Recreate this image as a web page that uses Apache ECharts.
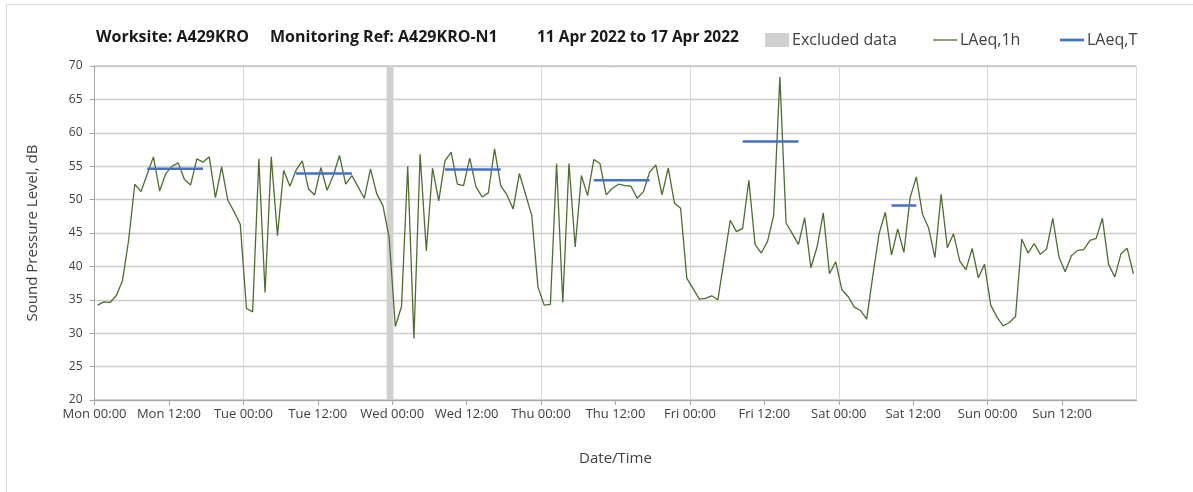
<!DOCTYPE html>
<html>
<head>
<meta charset="utf-8">
<script src="https://cdn.jsdelivr.net/npm/echarts@6/dist/echarts.min.js"></script>
<style>
html,body{margin:0;padding:0;background:#fff;}
#frame{position:absolute;left:6px;top:4px;width:1187px;height:488px;border-left:1px solid #d9d9d9;border-top:1px solid #d9d9d9;}
#chart{position:absolute;left:0;top:0;width:1193px;height:492px;}
</style>
</head>
<body>
<div id="frame"></div>
<div id="chart"></div>
<script>
// Day names for x-axis labels
var dayNames = ['Mon','Tue','Wed','Thu','Fri','Sat','Sun'];
// Hourly LAeq,1h values (dB), Mon 00:00 to Sun 23:00
var laeq1h = [
  34.2,34.7,34.6,35.6,37.8,43.9,52.3,51.2,53.8,56.4,51.3,53.9,55.0,55.5,53.0,52.2,56.1,55.6,56.4,50.3,54.9,49.9,48.2,46.3,
  33.7,33.2,56.1,36.1,56.4,44.6,54.4,52.0,54.4,55.8,51.6,50.7,54.8,51.4,53.6,56.6,52.3,53.6,51.9,50.2,54.6,50.9,49.1,44.4,
  31.0,34.0,55.0,29.2,56.8,42.3,54.7,49.8,55.8,57.1,52.3,52.1,56.2,51.9,50.4,51.0,57.6,52.1,50.7,48.6,53.9,50.8,47.6,36.9,
  34.2,34.3,55.4,34.6,55.4,42.9,53.6,50.6,56.0,55.4,50.7,51.7,52.3,52.1,52.0,50.2,51.2,54.1,55.2,50.7,54.7,49.5,48.7,38.2,
  36.7,35.1,35.2,35.6,35.0,40.9,46.9,45.2,45.7,52.9,43.3,42.0,43.7,47.6,68.4,46.5,44.9,43.3,47.3,39.8,42.9,48.0,38.9,40.7,
  36.5,35.5,33.9,33.4,32.1,38.7,44.9,48.1,41.7,45.6,42.1,50.3,53.4,47.8,45.7,41.3,50.8,42.8,44.9,40.8,39.5,42.7,38.3,40.3,
  34.2,32.4,31.1,31.6,32.5,44.1,42.0,43.4,41.8,42.6,47.2,41.4,39.2,41.6,42.4,42.5,43.9,44.2,47.2,40.3,38.4,41.9,42.7,38.9
];
// LAeq,T periods (first hour index, last hour index, level dB)
var periodStart = [8, 32, 56, 80, 104, 128];
var periodEnd   = [17, 41, 65, 89, 113, 132];
var periodValue = [54.6, 53.9, 54.5, 52.9, 58.7, 49.1];
// Excluded data period (hours from Mon 00:00)
var excludedStart = [47.1];
var excludedEnd   = [48.2];
// Y axis ticks
var yMin = 20, yMax = 70, yStep = 5;

var FONT = '"Open Sans", sans-serif';
var lineData = laeq1h.map(function(v, i){ return [i + 0.5, v]; });
var tData = [];
for (var k = 0; k < periodStart.length; k++) {
  tData.push([periodStart[k] + 0.5, periodValue[k]]);
  tData.push([periodEnd[k] + 0.5, periodValue[k]]);
  tData.push([periodEnd[k] + 0.5, '-']);
}
var exclAreas = excludedStart.map(function(s, i){ return [{xAxis: s}, {xAxis: excludedEnd[i]}]; });

function legendAt(left, item){
  return {
    left: left, top: 32, padding: 0,
    itemWidth: 24, itemHeight: 14,
    textStyle: {fontSize: 16, color: '#404040', fontFamily: FONT, padding: [0,0,0,-2]},
    data: [item]
  };
}

var chart = echarts.init(document.getElementById('chart'), null, {renderer: 'canvas'});
chart.setOption({
  animation: false,
  backgroundColor: 'transparent',
  textStyle: {fontFamily: FONT},
  graphic: [
    {type:'text', left: 96, top: 29, style:{text:'Worksite: A429KRO', font:'bold 16px ' + FONT, fill:'#1a1a1a'}},
    {type:'text', left: 270, top: 29, style:{text:'Monitoring Ref: A429KRO-N1', font:'bold 16px ' + FONT, fill:'#1a1a1a'}},
    {type:'text', left: 537, top: 30, style:{text:'11 Apr 2022 to 17 Apr 2022', font:'bold 15.5px ' + FONT, fill:'#1a1a1a'}}
  ],
  legend: [
    legendAt(765, {name: 'Excluded data', icon: 'rect'}),
    legendAt(933, {name: 'LAeq,1h', icon: 'path://M0,0 L24,0 L24,1.6 L0,1.6 Z'}),
    legendAt(1060, {name: 'LAeq,T', icon: 'path://M0,0 L26,0 L26,3 L0,3 Z'})
  ],
  grid: {left: 94.5, right: 56.5, top: 66, bottom: 92, show: true, borderColor: '#a6a6a6', borderWidth: 1},
  xAxis: [
    {
      type: 'value', min: 0, max: 168, interval: 12,
      name: 'Date/Time', nameLocation: 'middle', nameGap: 51,
      nameTextStyle: {fontSize: 15, color: '#404040', fontFamily: FONT},
      axisLine: {show: true, lineStyle: {color: '#a6a6a6'}},
      axisTick: {show: true, length: 5, lineStyle: {color: '#a6a6a6'}},
      splitLine: {show: false},
      axisLabel: {
        color: '#404040', fontSize: 13, fontFamily: FONT, margin: 8, showMaxLabel: false,
        formatter: function(v){
          var d = Math.floor(v / 24);
          if (d >= dayNames.length) return '';
          return dayNames[d] + (v % 24 === 0 ? ' 00:00' : ' 12:00');
        }
      }
    },
    {
      type: 'value', min: 0, max: 168, interval: 24, position: 'bottom',
      axisLine: {show: false}, axisTick: {show: false}, axisLabel: {show: false},
      splitLine: {show: true, lineStyle: {color: '#d9d9d9', width: 1}}
    }
  ],
  yAxis: {
    type: 'value', min: yMin, max: yMax, interval: yStep,
    name: 'Sound Pressure Level, dB', nameLocation: 'middle', nameGap: 54,
    nameTextStyle: {fontSize: 15, color: '#404040', fontFamily: FONT},
    axisLine: {show: true, lineStyle: {color: '#a6a6a6'}},
    axisTick: {show: true, length: 5, inside: false, lineStyle: {color: '#a6a6a6'}},
    axisLabel: {color: '#404040', fontSize: 12, fontFamily: FONT, margin: 12},
    splitLine: {show: true, lineStyle: {color: '#cccccc', width: 1.3}}
  },
  series: [
    {
      name: 'Excluded data', type: 'line', data: [], symbol: 'none',
      itemStyle: {color: '#d0d0d0'}, lineStyle: {color: '#d0d0d0'},
      markArea: {silent: true, itemStyle: {color: '#d0d0d0', opacity: 1}, data: exclAreas}
    },
    {
      name: 'LAeq,1h', type: 'line', data: lineData, symbol: 'none',
      itemStyle: {color: '#6b8b4e'}, lineStyle: {color: '#4d6e2e', width: 1.3}, z: 3
    },
    {
      name: 'LAeq,T', type: 'line', data: tData, symbol: 'none', connectNulls: false,
      itemStyle: {color: '#4472c4'}, lineStyle: {color: '#4472c4', width: 2.5}, z: 4
    }
  ]
});
</script>
</body>
</html>
